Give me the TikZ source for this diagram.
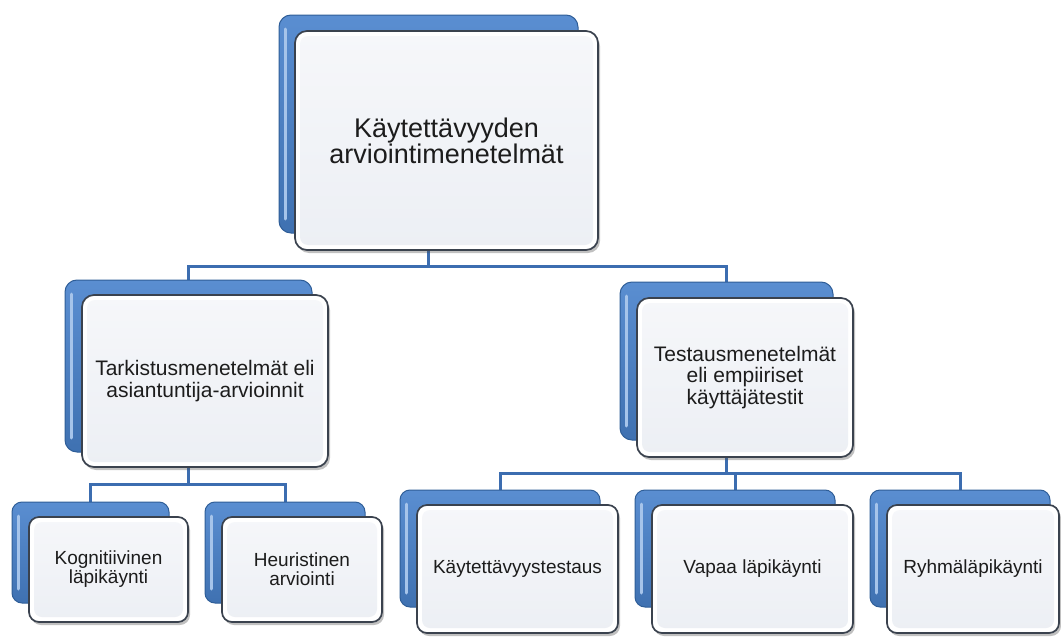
\documentclass[tikz,border=0pt]{standalone}
\usepackage{fontspec}
\setmainfont{Liberation Sans}
\usetikzlibrary{shadows,backgrounds}
\definecolor{backtop}{HTML}{5A8ED1}
\definecolor{backbot}{HTML}{3F71B1}
\definecolor{backline}{HTML}{2F5E98}
\definecolor{backhi}{HTML}{A6C4EA}
\definecolor{frontline}{HTML}{3A424E}
\definecolor{innertop}{HTML}{F6F7FA}
\definecolor{innerbot}{HTML}{ECEFF4}
\definecolor{connblue}{HTML}{3C6DB0}
\definecolor{txt}{HTML}{1C1C1C}
\begin{document}
\begin{tikzpicture}[x=1pt,y=-1pt,
  backbox/.style={draw=backline, line width=1pt, top color=backtop, bottom color=backbot,
    rounded corners=12pt, inner sep=0pt,
    path picture={\draw[backhi, line width=3pt, line cap=round]
      ([shift={(6pt,14pt)}]path picture bounding box.south west) --
      ([shift={(6pt,-14pt)}]path picture bounding box.north west);}},
  frontbox/.style={draw=frontline, line width=1.7pt, fill=white, rounded corners=12pt,
    inner sep=0pt, align=center, text=txt,
    drop shadow={shadow xshift=2pt, shadow yshift=-3pt, opacity=.35, fill=black!70},
    path picture={\fill[top color=innertop, bottom color=innerbot, rounded corners=8pt]
      ([shift={(5pt,5pt)}]path picture bounding box.south west) rectangle
      ([shift={(-5pt,-5pt)}]path picture bounding box.north east);}},
  conn/.style={draw=connblue, line width=3pt},
  bigtext/.style={font=\fontsize{27}{24}\selectfont},
  midtext/.style={font=\fontsize{21}{21.5}\selectfont},
  smalltext/.style={font=\fontsize{19}{19}\selectfont}
]
\useasboundingbox (0,0) rectangle (1061,637);

% root
\node[backbox, minimum width=299pt, minimum height=218pt] (topB) at (428.5,124) {};
\node[frontbox, bigtext, minimum width=303pt, minimum height=219pt] (topF) at (446.5,140.5)
  {Käytettävyyden\\arviointimenetelmät};

% second level
\node[backbox, minimum width=247pt, minimum height=172pt] (tarB) at (188.5,366) {};
\node[frontbox, midtext, minimum width=246pt, minimum height=172pt] (tarF) at (205,381)
  {Tarkistusmenetelmät eli\\asiantuntija-arvioinnit};

\node[backbox, minimum width=213pt, minimum height=158pt] (tesB) at (726.5,361) {};
\node[frontbox, midtext, minimum width=216pt, minimum height=159pt] (tesF) at (745,377.5)
  {Testausmenetelmät\\eli empiiriset\\käyttäjätestit};

% third level
\node[backbox, rounded corners=10pt, minimum width=157pt, minimum height=101pt] (kogB) at (90.5,552.5) {};
\node[frontbox, smalltext, rounded corners=10pt, minimum width=159pt, minimum height=105pt] (kogF) at (108.5,569.5)
  {Kognitiivinen\\läpikäynti};

\node[backbox, rounded corners=10pt, minimum width=160pt, minimum height=101pt] (heuB) at (285,552.5) {};
\node[frontbox, smalltext, rounded corners=10pt, minimum width=160pt, minimum height=105pt] (heuF) at (302,569.5)
  {Heuristinen\\arviointi};

\node[backbox, rounded corners=10pt, minimum width=200pt, minimum height=117pt] (kayB) at (500,548.5) {};
\node[frontbox, smalltext, rounded corners=10pt, minimum width=201pt, minimum height=128pt] (kayF) at (517.5,569)
  {Käytettävyystestaus};

\node[backbox, rounded corners=10pt, minimum width=200pt, minimum height=117pt] (vapB) at (735,548.5) {};
\node[frontbox, smalltext, rounded corners=10pt, minimum width=201pt, minimum height=128pt] (vapF) at (752.5,569)
  {Vapaa läpikäynti};

\node[backbox, rounded corners=10pt, minimum width=180pt, minimum height=117pt] (ryhB) at (960,548.5) {};
\node[frontbox, smalltext, rounded corners=10pt, minimum width=172pt, minimum height=128pt] (ryhF) at (973,569)
  {Ryhmäläpikäynti};

% connectors, behind the boxes
\begin{scope}[on background layer]
  \fill[white] (0,0) rectangle (1061,637);
  \coordinate (bus1) at (0,266);
  \coordinate (bus2) at (0,484);
  \coordinate (bus3) at (0,473);
  \draw[conn] (topB.south) -- (topB.south |- bus1) -| (tarB.north);
  \draw[conn] (topB.south |- bus1) -| (tesB.north);
  \draw[conn] (tarB.south) -- (tarB.south |- bus2) -| (kogB.north);
  \draw[conn] (tarB.south |- bus2) -| (heuB.north);
  \draw[conn] (tesB.south) -- (tesB.south |- bus3) -| (kayB.north);
  \draw[conn] (tesB.south |- bus3) -| (vapB.north);
  \draw[conn] (tesB.south |- bus3) -| (ryhB.north);
\end{scope}
\end{tikzpicture}
\end{document}
